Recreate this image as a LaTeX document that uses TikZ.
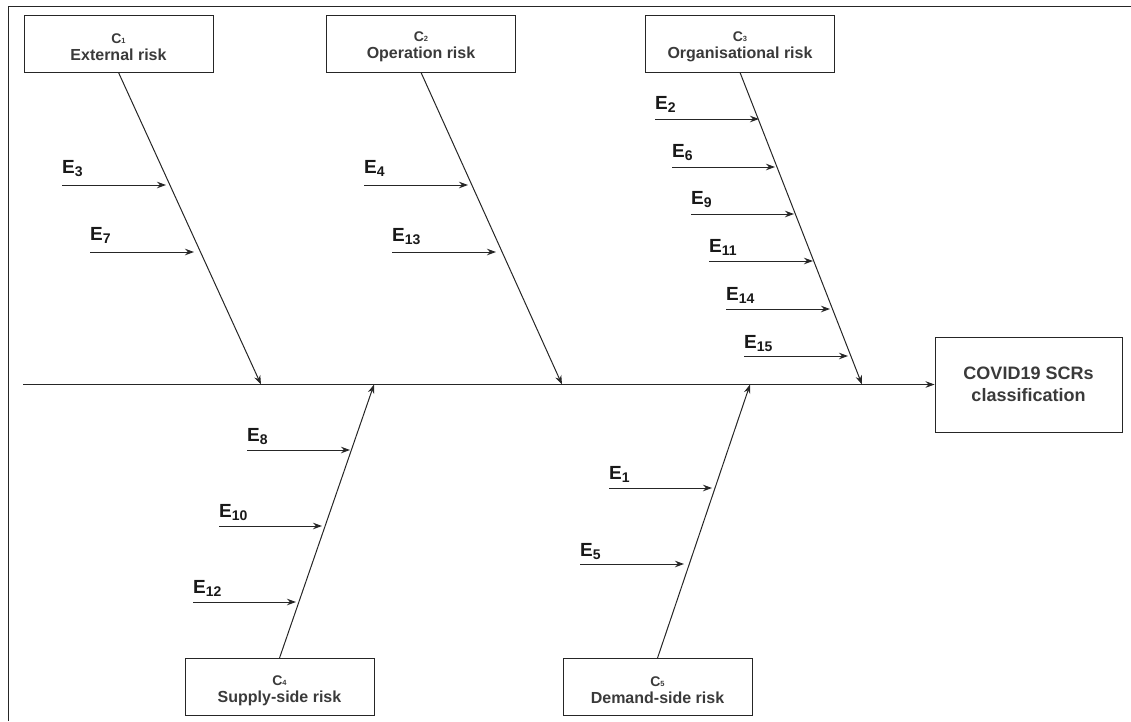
\documentclass[tikz,border=0pt]{standalone}
\usepackage{fontspec}
\setmainfont{Liberation Sans}
\usepackage{tikz}
\usetikzlibrary{arrows.meta}
\definecolor{inkline}{HTML}{262626}
\definecolor{inktext}{HTML}{3A3A3A}
\newcommand{\cname}[1]{\rule{0pt}{17pt}{\fontsize{14}{14}\selectfont C{\fontsize{7.5}{8}\selectfont #1}}}
\newcommand{\elab}[1]{E\raisebox{-3.5pt}{\fontsize{14}{14}\selectfont #1}}
\tikzset{
  catbox/.style = {draw=inkline, line width=0.9pt, minimum width=189pt,
    minimum height=57pt, inner sep=0pt, align=center, text=inktext,
    font=\bfseries\fontsize{16}{17}\selectfont},% cause category
  resbox/.style = {catbox, minimum width=187pt, minimum height=95pt,
    font=\bfseries\fontsize{18}{22}\selectfont},% effect head
  elabel/.style = {anchor=base west, inner sep=0pt, text=black!90,
    font=\bfseries\fontsize{19}{19}\selectfont},% sub cause label
  bone/.style = {draw=inkline, line width=1pt,
    -{Stealth[length=9pt,width=6.5pt]}},
  twig/.style = {bone}
}

\begin{document}
\begin{tikzpicture}[x=1pt, y=-1pt]
  \useasboundingbox (0,0) rectangle (1131,721);
  \draw[inkline, line width=1pt] (8,721) -- (8,6) -- (1131,6);

  % categories and result
  \node [catbox] (c1) at (118.5,43.5) {\cname{1}\\External risk};
  \node [catbox] (c2) at (421,43.5) {\cname{2}\\Operation risk};
  \node [catbox] (c3) at (740,43.5) {\cname{3}\\Organisational risk};
  \node [catbox] (c4) at (279.5,687) {\cname{4}\\Supply-side risk};
  \node [catbox] (c5) at (657.5,687) {\cname{5}\\Demand-side risk};
  \node [resbox] (res) at (1028.5,384.5) {COVID19 SCRs\\classification};

  % spine
  \coordinate (tail) at (23,384.5);
  \coordinate (s1) at (261,384.5);
  \coordinate (s2) at (562,384.5);
  \coordinate (s3) at (862,384.5);
  \coordinate (s4) at (374,384.5);
  \coordinate (s5) at (750,384.5);
  \draw [bone] (tail) -- (res.west);
  \draw [bone] (c1.south) -- (s1);
  \draw [bone] (c2.south) -- (s2);
  \draw [bone] (c3.south) -- (s3);
  \draw [bone] (c4.north) -- (s4);
  \draw [bone] (c5.north) -- (s5);

  % C1
  \coordinate (t3) at (62,185);   \coordinate (h3) at (166,185);
  \coordinate (t7) at (90,252);   \coordinate (h7) at (194,252);
  \node [elabel] (e3) at ([yshift=12pt]t3) {\elab{3}};
  \node [elabel] (e7) at ([yshift=12pt]t7) {\elab{7}};
  \draw [twig] (t3) -- (h3);
  \draw [twig] (t7) -- (h7);

  % C2
  \coordinate (t4) at (364,185);  \coordinate (h4) at (468,185);
  \coordinate (t13) at (392,252); \coordinate (h13) at (496,252);
  \node [elabel] (e4) at ([yshift=12pt]t4) {\elab{4}};
  \node [elabel] (e13) at ([yshift=11pt]t13) {\elab{13}};
  \draw [twig] (t4) -- (h4);
  \draw [twig] (t13) -- (h13);

  % C3
  \coordinate (t2) at (655,119);  \coordinate (h2) at (759,119);
  \coordinate (t6) at (672,167);  \coordinate (h6) at (775,167);
  \coordinate (t9) at (691,214);  \coordinate (h9) at (794,214);
  \coordinate (t11) at (709,261); \coordinate (h11) at (813,261);
  \coordinate (t14) at (726,309); \coordinate (h14) at (830,309);
  \coordinate (t15) at (744,356); \coordinate (h15) at (848,356);
  \node [elabel] (e2) at ([yshift=10pt]t2) {\elab{2}};
  \node [elabel] (e6) at ([yshift=10pt]t6) {\elab{6}};
  \node [elabel] (e9) at ([yshift=10pt]t9) {\elab{9}};
  \node [elabel] (e11) at ([yshift=9pt]t11) {\elab{11}};
  \node [elabel] (e14) at ([yshift=9pt]t14) {\elab{14}};
  \node [elabel] (e15) at ([yshift=8pt]t15) {\elab{15}};
  \draw [twig] (t2) -- (h2);
  \draw [twig] (t6) -- (h6);
  \draw [twig] (t9) -- (h9);
  \draw [twig] (t11) -- (h11);
  \draw [twig] (t14) -- (h14);
  \draw [twig] (t15) -- (h15);

  % C4
  \coordinate (t8) at (247,450);  \coordinate (h8) at (350,450);
  \coordinate (t10) at (219,526); \coordinate (h10) at (322,526);
  \coordinate (t12) at (193,602); \coordinate (h12) at (296,602);
  \node [elabel] (e8) at ([yshift=9pt]t8) {\elab{8}};
  \node [elabel] (e10) at ([yshift=9pt]t10) {\elab{10}};
  \node [elabel] (e12) at ([yshift=9pt]t12) {\elab{12}};
  \draw [twig] (t8) -- (h8);
  \draw [twig] (t10) -- (h10);
  \draw [twig] (t12) -- (h12);

  % C5
  \coordinate (t1) at (609,488);  \coordinate (h1) at (712,488);
  \coordinate (t5) at (580,564);  \coordinate (h5) at (684,564);
  \node [elabel] (e1) at ([yshift=9pt]t1) {\elab{1}};
  \node [elabel] (e5) at ([yshift=8pt]t5) {\elab{5}};
  \draw [twig] (t1) -- (h1);
  \draw [twig] (t5) -- (h5);
\end{tikzpicture}
\end{document}
